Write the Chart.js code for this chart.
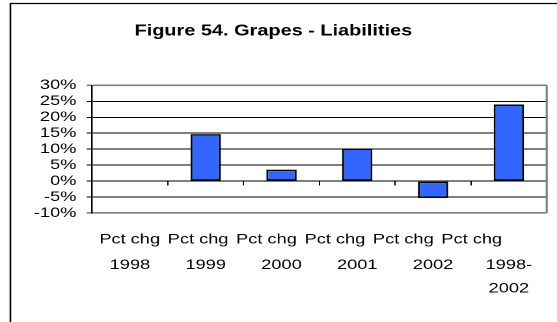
<!DOCTYPE html>
<html>
<head>
<meta charset="utf-8">
<script src="https://cdn.jsdelivr.net/npm/chart.js@4"></script>
<style>
  html, body { margin: 0; padding: 0; background: #fff; }
  /* chart is laid out narrow, then widened to 557px */
  #wrap { position: relative; width: 428px; height: 322px; transform: scaleX(1.3014); transform-origin: 0 0; }
</style>
</head>
<body>
<div id="wrap"><canvas id="grapes-liabilities"></canvas></div>
<script>
const years = ["1998", "1999", "2000", "2001", "2002", ["1998-", "2002"]];
const rowLabel = "Pct chg";
const pctChange = [null, 14.7, 3.6, 10.2, -5.3, 24.0];
const yTicks = [-10, -5, 0, 5, 10, 15, 20, 25, 30];

const FONT = "'Liberation Sans', Arial, sans-serif";
const isEdge = (c) => c.tick && (c.tick.value === 30 || c.tick.value === -10);

// outer frame + right edge of the plot box
const frame = {
  id: "frame",
  beforeDraw(chart) {
    const ctx = chart.ctx;
    ctx.save();
    ctx.strokeStyle = "#000";
    ctx.lineWidth = 1.3;
    ctx.beginPath();
    ctx.moveTo(8, chart.height);
    ctx.lineTo(8, 3.5);
    ctx.lineTo(chart.width, 3.5);
    ctx.stroke();
    ctx.restore();
  },
  beforeDatasetsDraw(chart) {
    const { ctx, chartArea: a } = chart;
    ctx.save();
    ctx.strokeStyle = "#808080";
    ctx.lineWidth = 1.6;
    ctx.beginPath();
    ctx.moveTo(a.right, a.top);
    ctx.lineTo(a.right, a.bottom);
    ctx.stroke();
    ctx.restore();
  },
};

new Chart(document.getElementById("grapes-liabilities"), {
  type: "bar",
  data: {
    labels: years,
    datasets: [
      {
        label: "Liabilities",
        data: pctChange,
        backgroundColor: "#3366ff",
        borderColor: "#000",
        borderWidth: 1.5,
        borderSkipped: false,
        barPercentage: 0.4,
        categoryPercentage: 1,
      },
    ],
  },
  options: {
    responsive: true,
    maintainAspectRatio: false,
    animation: false,
    devicePixelRatio: 2,
    layout: { padding: { top: 0, left: 0, right: 7.9, bottom: 0 } },
    scales: {
      y: {
        min: -10,
        max: 30,
        afterBuildTicks: (s) => { s.ticks = yTicks.map((v) => ({ value: v })); },
        afterFit: (s) => { s.width = 70.7; },
        grid: {
          color: (c) => (isEdge(c) ? "#808080" : "#000"),
          lineWidth: (c) => (isEdge(c) ? 1.6 : 1),
          tickLength: 4,
        },
        border: { color: "#000", width: 1.2 },
        ticks: {
          color: "#000",
          font: { family: FONT, size: 14 },
          padding: 8,
          autoSkip: false,
          callback: (v) => v + "%",
        },
      },
      x: {
        type: "category",
        position: { y: 0 },
        offset: true,
        grid: { drawOnChartArea: false, color: "#000", tickLength: 4, offset: true },
        border: { color: "#000", width: 1 },
        ticks: {
          color: "#000",
          font: { family: FONT, size: 14, lineHeight: 1.69 },
          padding: 68,
          maxRotation: 0,
          autoSkip: false,
        },
        afterFit: (s) => { s.paddingLeft = 0; s.paddingRight = 0; },
      },
      // "Pct chg" row sits on its own axis, slightly tighter than the categories
      x2: {
        type: "linear",
        position: "bottom",
        offset: false,
        min: -0.551,
        max: 6.097,
        afterBuildTicks: (s) => { s.ticks = years.map((_, i) => ({ value: i })); },
        grid: { display: false, offset: false },
        border: { display: false },
        ticks: {
          padding: 10,
          color: "#000",
          font: { family: FONT, size: 14 },
          maxRotation: 0,
          autoSkip: false,
          callback: () => rowLabel,
        },
        afterFit: (s) => { s.height = 109; s.paddingLeft = 0; s.paddingRight = 0; },
      },
    },
    plugins: {
      legend: { display: false },
      tooltip: { enabled: false },
      title: {
        display: true,
        text: "Figure 54. Grapes - Liabilities",
        color: "#000",
        font: { family: FONT, size: 15.3, weight: "bold" },
        padding: { top: 22, bottom: 45 },
      },
    },
  },
  plugins: [frame],
});
</script>
</body>
</html>
